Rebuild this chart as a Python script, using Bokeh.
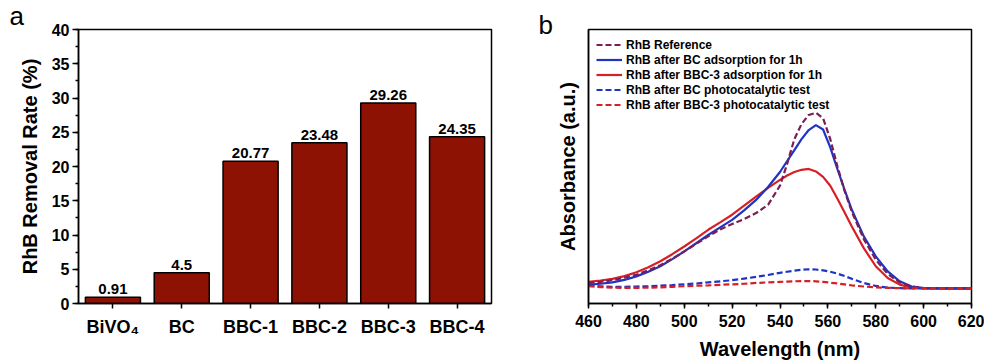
from bokeh.plotting import figure
from bokeh.models import (FactorRange, Range1d, FixedTicker, SingleIntervalTicker,
                          Legend, LegendItem, Title)
from bokeh.layouts import row
from bokeh.embed import file_html
from bokeh.resources import INLINE
from bokeh.core.properties import value

FONT = "Liberation Sans"

# ---------------- panel a data ----------------
categories = ["BiVO₄", "BC", "BBC-1", "BBC-2", "BBC-3", "BBC-4"]
removal = [0.91, 4.5, 20.77, 23.48, 29.26, 24.35]
removal_labels = ["0.91", "4.5", "20.77", "23.48", "29.26", "24.35"]

# ---------------- panel b data ----------------
wavelength = [460, 465, 470, 475, 480, 485, 490, 495, 500, 505, 510, 515, 520, 525,
              530, 535, 540, 543, 546, 549, 552, 555, 558, 561, 564, 567, 570, 575,
              580, 585, 590, 595, 600, 610, 620]
rhb_reference = [0.075, 0.079, 0.085, 0.094, 0.105, 0.121, 0.140, 0.163, 0.190, 0.218,
                 0.245, 0.270, 0.290, 0.308, 0.330, 0.360, 0.430, 0.510, 0.600, 0.655,
                 0.688, 0.696, 0.676, 0.600, 0.500, 0.410, 0.335, 0.235, 0.160, 0.108,
                 0.077, 0.062, 0.056, 0.055, 0.055]
bc_adsorption = [0.069, 0.072, 0.077, 0.086, 0.099, 0.116, 0.136, 0.162, 0.190, 0.220,
                 0.250, 0.278, 0.305, 0.340, 0.378, 0.425, 0.480, 0.520, 0.560, 0.600,
                 0.633, 0.651, 0.635, 0.570, 0.490, 0.415, 0.342, 0.245, 0.172, 0.117,
                 0.081, 0.062, 0.056, 0.055, 0.055]
bbc3_adsorption = [0.079, 0.084, 0.090, 0.100, 0.114, 0.132, 0.154, 0.180, 0.208, 0.238,
                   0.269, 0.296, 0.324, 0.357, 0.390, 0.422, 0.451, 0.467, 0.480, 0.488,
                   0.491, 0.482, 0.462, 0.430, 0.382, 0.332, 0.281, 0.202, 0.136, 0.093,
                   0.069, 0.058, 0.056, 0.055, 0.055]
bc_photo = [0.066, 0.063, 0.061, 0.061, 0.062, 0.063, 0.065, 0.067, 0.070, 0.073,
            0.077, 0.081, 0.085, 0.091, 0.097, 0.104, 0.112, 0.116, 0.120, 0.123,
            0.125, 0.124, 0.121, 0.116, 0.109, 0.100, 0.090, 0.075, 0.064, 0.058,
            0.056, 0.055, 0.055, 0.055, 0.055]
bbc3_photo = [0.063, 0.060, 0.058, 0.057, 0.057, 0.058, 0.059, 0.061, 0.063, 0.065,
              0.066, 0.068, 0.070, 0.072, 0.075, 0.077, 0.079, 0.080, 0.081, 0.082,
              0.082, 0.081, 0.079, 0.076, 0.073, 0.070, 0.066, 0.062, 0.059, 0.057,
              0.056, 0.055, 0.055, 0.055, 0.055]
series_labels = ["RhB Reference", "RhB after BC adsorption for 1h",
                 "RhB after BBC-3 adsorption for 1h", "RhB after BC photocatalytic test",
                 "RhB after BBC-3 photocatalytic test"]

PURPLE = "#7A1E55"
BLUE = "#1F33C4"
RED = "#D62027"
BAR = "#8E1204"


def style_axes(p):
    for ax in p.axis:
        ax.axis_line_color = "black"
        ax.axis_line_width = 1.5
        ax.major_tick_line_color = "black"
        ax.major_tick_line_width = 1.5
        ax.minor_tick_line_color = "black"
        ax.minor_tick_line_width = 1.5
        ax.major_tick_in = 0
        ax.minor_tick_in = 0
        ax.major_label_text_font = FONT
        ax.major_label_text_font_style = "bold"
        ax.major_label_text_color = "black"
        ax.axis_label_text_font = FONT
        ax.axis_label_text_font_style = "bold"
        ax.axis_label_text_font_size = "20px"
        ax.axis_label_text_color = "black"
    p.grid.visible = False
    p.outline_line_color = "black"
    p.outline_line_width = 1.5
    p.outline_line_alpha = 1


def panel_letter(letter, offset, standoff):
    return Title(text=letter, align="left", offset=offset, standoff=standoff,
                 text_font=FONT, text_font_size="26px", text_font_style="normal",
                 text_color="black")


# ---------------- panel a ----------------
pa = figure(x_range=FactorRange(factors=categories, range_padding=0),
            y_range=Range1d(0, 40), width=520, height=362,
            output_backend="svg", toolbar_location=None,
            min_border_left=78, min_border_right=29, min_border_top=29,
            min_border_bottom=57, title=panel_letter("a", -69, -3))
pa.vbar(x=categories, top=removal, width=0.8, fill_color=BAR,
        line_color="black", line_width=1.5)
pa.text(x=categories, y=removal, text=removal_labels, text_align="center",
        text_baseline="bottom", y_offset=-3, text_font=value(FONT),
        text_font_style="bold", text_font_size="15px", text_color="black")
style_axes(pa)
pa.yaxis.ticker = SingleIntervalTicker(interval=5, num_minor_ticks=2)
pa.yaxis.major_tick_out = 6
pa.yaxis.minor_tick_out = 3
pa.yaxis.major_label_text_font_size = "16px"
pa.yaxis.major_label_standoff = 3
pa.yaxis.axis_label = "RhB Removal Rate (%)"
pa.yaxis.axis_label_standoff = 8
pa.xaxis.major_tick_out = 5
pa.xaxis.major_label_text_font_size = "18px"
pa.xaxis.major_label_standoff = 8

# ---------------- panel b ----------------
pb = figure(x_range=Range1d(460, 620), y_range=Range1d(0, 1), width=464, height=362,
            output_backend="svg", toolbar_location=None,
            min_border_left=68, min_border_right=13, min_border_top=29,
            min_border_bottom=58, title=panel_letter("b", -50, -21))
r_bbc3_ads = pb.line(wavelength, bbc3_adsorption, line_color=RED, line_width=2.2)
r_bc_ads = pb.line(wavelength, bc_adsorption, line_color=BLUE, line_width=2.2)
r_ref = pb.line(wavelength, rhb_reference, line_color=PURPLE, line_width=2.2,
                line_dash="6 3")
r_bc_photo = pb.line(wavelength, bc_photo, line_color=BLUE, line_width=2.2,
                     line_dash="6 3")
r_bbc3_photo = pb.line(wavelength, bbc3_photo, line_color=RED, line_width=2.2,
                       line_dash="6 3")
style_axes(pb)
pb.xaxis.ticker = SingleIntervalTicker(interval=20, num_minor_ticks=2)
pb.xaxis.major_tick_out = 5
pb.xaxis.minor_tick_out = 3
pb.xaxis.major_label_text_font_size = "16px"
pb.xaxis.major_label_standoff = 6
pb.xaxis.axis_label = "Wavelength (nm)"
pb.xaxis.axis_label_standoff = 8
pb.yaxis.ticker = FixedTicker(ticks=[])
pb.yaxis.major_tick_out = 0
pb.yaxis.minor_tick_out = 0
pb.yaxis.axis_label = "Absorbance (a.u.)"
pb.yaxis.axis_label_standoff = 10

legend = Legend(items=[
    LegendItem(label=series_labels[0], renderers=[r_ref]),
    LegendItem(label=series_labels[1], renderers=[r_bc_ads]),
    LegendItem(label=series_labels[2], renderers=[r_bbc3_ads]),
    LegendItem(label=series_labels[3], renderers=[r_bc_photo]),
    LegendItem(label=series_labels[4], renderers=[r_bbc3_photo]),
], location="top_left", margin=0, padding=8, spacing=0,
    label_height=15, glyph_height=15, glyph_width=26, label_standoff=4,
    label_text_font=FONT, label_text_font_style="bold",
    label_text_font_size="12px", label_text_color="black",
    background_fill_alpha=0, border_line_alpha=0)
pb.add_layout(legend)

layout = row(pa, pb)
open("out.html", "w").write(file_html(layout, INLINE))
